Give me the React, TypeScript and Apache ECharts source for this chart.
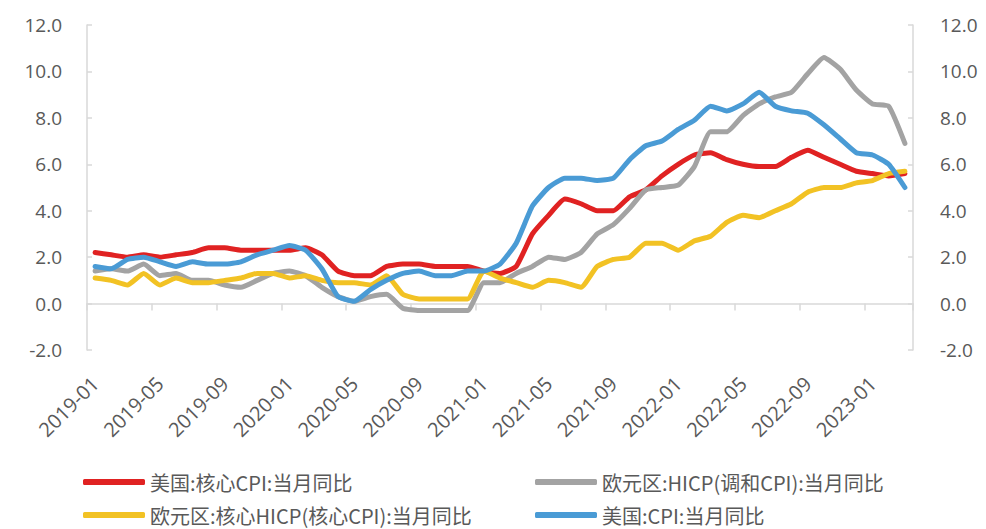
import React, { useEffect, useRef } from "react";
import * as echarts from "echarts";

const months: string[] = [];
for (let y = 2019; y <= 2023; y++) {
  for (let m = 1; m <= 12; m++) {
    if (y === 2023 && m > 3) break;
    months.push(`${y}-${String(m).padStart(2, "0")}`);
  }
}

const seriesNames = [
  "美国:核心CPI:当月同比",
  "欧元区:HICP(调和CPI):当月同比",
  "欧元区:核心HICP(核心CPI):当月同比",
  "美国:CPI:当月同比",
];

const usCoreCPI = [
  2.2, 2.1, 2.0, 2.1, 2.0, 2.1, 2.2, 2.4, 2.4, 2.3, 2.3, 2.3,
  2.3, 2.4, 2.1, 1.4, 1.2, 1.2, 1.6, 1.7, 1.7, 1.6, 1.6, 1.6,
  1.4, 1.3, 1.6, 3.0, 3.8, 4.5, 4.3, 4.0, 4.0, 4.6, 4.9, 5.5,
  6.0, 6.4, 6.5, 6.2, 6.0, 5.9, 5.9, 6.3, 6.6, 6.3, 6.0, 5.7,
  5.6, 5.5, 5.6,
];

const euroHICP = [
  1.4, 1.5, 1.4, 1.7, 1.2, 1.3, 1.0, 1.0, 0.8, 0.7, 1.0, 1.3,
  1.4, 1.2, 0.7, 0.3, 0.1, 0.3, 0.4, -0.2, -0.3, -0.3, -0.3, -0.3,
  0.9, 0.9, 1.3, 1.6, 2.0, 1.9, 2.2, 3.0, 3.4, 4.1, 4.9, 5.0,
  5.1, 5.9, 7.4, 7.4, 8.1, 8.6, 8.9, 9.1, 9.9, 10.6, 10.1, 9.2,
  8.6, 8.5, 6.9,
];

const euroCoreHICP = [
  1.1, 1.0, 0.8, 1.3, 0.8, 1.1, 0.9, 0.9, 1.0, 1.1, 1.3, 1.3,
  1.1, 1.2, 1.0, 0.9, 0.9, 0.8, 1.2, 0.4, 0.2, 0.2, 0.2, 0.2,
  1.4, 1.1, 0.9, 0.7, 1.0, 0.9, 0.7, 1.6, 1.9, 2.0, 2.6, 2.6,
  2.3, 2.7, 2.9, 3.5, 3.8, 3.7, 4.0, 4.3, 4.8, 5.0, 5.0, 5.2,
  5.3, 5.6, 5.7,
];

const usCPI = [
  1.6, 1.5, 1.9, 2.0, 1.8, 1.6, 1.8, 1.7, 1.7, 1.8, 2.1, 2.3,
  2.5, 2.3, 1.5, 0.3, 0.1, 0.6, 1.0, 1.3, 1.4, 1.2, 1.2, 1.4,
  1.4, 1.7, 2.6, 4.2, 5.0, 5.4, 5.4, 5.3, 5.4, 6.2, 6.8, 7.0,
  7.5, 7.9, 8.5, 8.3, 8.6, 9.1, 8.5, 8.3, 8.2, 7.7, 7.1, 6.5,
  6.4, 6.0, 5.0,
];

const colors = ["#E02222", "#A3A3A3", "#F2C224", "#4A9BD5"];
const allData = [usCoreCPI, euroHICP, euroCoreHICP, usCPI];

const labelColor = "#595959";
const axisColor = "#D9D9D9";
const numFont = "Open Sans";
const cjkFont = "Noto Sans CJK SC";

export default function App() {
  const ref = useRef<HTMLDivElement>(null);

  useEffect(() => {
    if (!ref.current) return;
    const chart = echarts.init(ref.current, null, { renderer: "svg" });

    const yAxisCommon = (pos: "left" | "right") => ({
      type: "value",
      position: pos,
      min: -2,
      max: 12,
      interval: 2,
      splitLine: { show: false },
      axisLine: { show: true, lineStyle: { color: axisColor, width: 1.5 } },
      axisTick: { show: true, inside: true, length: 5, lineStyle: { color: axisColor, width: 1.5 } },
      axisLabel: {
        margin: pos === "left" ? 25 : 27,
        color: labelColor,
        fontSize: 19,
        fontFamily: numFont,
        formatter: (v: number) => v.toFixed(1),
      },
    });

    const legendPos = [
      { left: 83, top: 471 },
      { left: 535, top: 471 },
      { left: 83, top: 504 },
      { left: 535, top: 504 },
    ];

    chart.setOption({
      animation: false,
      backgroundColor: "#ffffff",
      grid: { left: 87, right: 73, top: 25, bottom: 179, containLabel: false },
      legend: seriesNames.map((name, i) => ({
        data: [name],
        ...legendPos[i],
        padding: 0,
        icon: "roundRect",
        itemWidth: 62,
        itemHeight: 6,
        itemGap: 0,
        textStyle: { color: labelColor, fontSize: 20, lineHeight: 22, fontFamily: cjkFont },
      })),
      xAxis: [
        {
          type: "category",
          data: months,
          boundaryGap: true,
          position: "bottom",
          axisLine: { show: false, onZero: false },
          axisTick: { show: false },
          axisLabel: {
            interval: 3,
            rotate: 45,
            margin: 30,
            color: labelColor,
            fontSize: 20,
            fontFamily: numFont,
          },
        },
        {
          type: "category",
          data: months,
          boundaryGap: true,
          position: "bottom",
          axisLine: { show: true, onZero: true, lineStyle: { color: axisColor, width: 1.5 } },
          axisTick: { show: true, interval: 3, length: 7, lineStyle: { color: axisColor, width: 1.5 } },
          axisLabel: { show: false },
        },
      ],
      yAxis: [yAxisCommon("left"), yAxisCommon("right")],
      series: seriesNames.map((name, i) => ({
        name,
        type: "line",
        xAxisIndex: 0,
        yAxisIndex: 0,
        data: allData[i],
        symbol: "none",
        smooth: 0.15,
        lineStyle: { color: colors[i], width: 5, join: "round", cap: "round" },
        itemStyle: { color: colors[i] },
      })),
    });

    return () => chart.dispose();
  }, []);

  return (
    <div
      ref={ref}
      style={{ position: "fixed", left: 0, top: 0, width: 986, height: 529, background: "#fff" }}
    />
  );
}
